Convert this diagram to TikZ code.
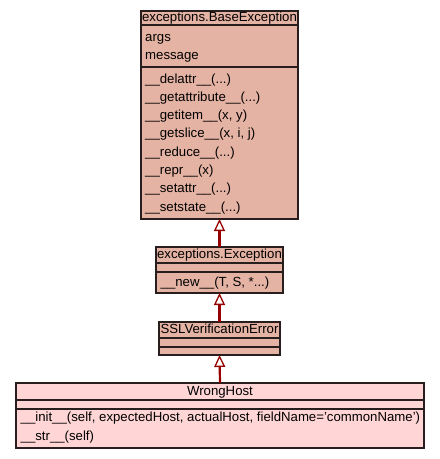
\documentclass[tikz,border=0pt]{standalone}
\usepackage{fontspec}
\setmainfont{Liberation Sans}
\usetikzlibrary{arrows.meta}
\definecolor{basefill}{RGB}{229,179,163}
\definecolor{leaffill}{RGB}{255,213,213}
\definecolor{arrowred}{RGB}{150,0,0}
\definecolor{edge}{RGB}{40,30,30}
\tikzset{
  comp/.style={draw=edge, line width=1.2pt, inner sep=0pt, outer sep=0pt, anchor=north west},
  lbl/.style={font=\fontsize{13.2}{15}\selectfont, inner sep=0pt, anchor=base west},
  ttl/.style={font=\fontsize{13.2}{15}\selectfont, inner sep=0pt, anchor=base},
  inherit/.style={draw=arrowred, line width=2.2pt,
    -{Triangle[open, length=12pt, width=11pt, line width=1.3pt, fill=white]}}
}
\begin{document}
\begin{tikzpicture}[x=1pt, y=1pt]
\useasboundingbox (0,0) rectangle (440,-459);
% BaseException
\node[comp, fill=basefill, minimum width=157pt, minimum height=14pt] (bt) at (141,-11) {};
\node[comp, fill=basefill, minimum width=157pt, minimum height=42pt] (ba) at (141,-25) {};
\node[comp, fill=basefill, minimum width=157pt, minimum height=152pt] (bm) at (141,-67) {};
\node[ttl] (btx) at (219.5,-21.7) {exceptions.BaseException};
\node[lbl] (b1) at (145,-41) {args};
\node[lbl] (b2) at (145,-59) {message};
\node[lbl] (m1) at (145,-83) {\_\_delattr\_\_(...)};
\node[lbl] (m2) at (145,-101.3) {\_\_getattribute\_\_(...)};
\node[lbl] (m3) at (145,-119.6) {\_\_getitem\_\_(x, y)};
\node[lbl] (m4) at (145,-137.9) {\_\_getslice\_\_(x, i, j)};
\node[lbl] (m5) at (145,-156.2) {\_\_reduce\_\_(...)};
\node[lbl] (m6) at (145,-174.5) {\_\_repr\_\_(x)};
\node[lbl] (m7) at (145,-192.8) {\_\_setattr\_\_(...)};
\node[lbl] (m8) at (145,-211.1) {\_\_setstate\_\_(...)};
% Exception
\node[comp, fill=basefill, minimum width=127pt, minimum height=16pt] (et) at (156,-247) {};
\node[comp, fill=basefill, minimum width=127pt, minimum height=9pt] (ea) at (156,-263) {};
\node[comp, fill=basefill, minimum width=127pt, minimum height=21pt] (em) at (156,-272) {};
\node[ttl] (etx) at (219.5,-258.3) {exceptions.Exception};
\node[lbl] (e1) at (160.5,-286.7) {\_\_new\_\_(T, S, *...)};
% SSLVerificationError
\node[comp, fill=basefill, minimum width=121pt, minimum height=16pt] (st) at (159,-322) {};
\node[comp, fill=basefill, minimum width=121pt, minimum height=9pt] (sa) at (159,-338) {};
\node[comp, fill=basefill, minimum width=121pt, minimum height=8pt] (sm) at (159,-347) {};
\node[ttl] (stx) at (219.5,-333.3) {SSLVerificationError};
% WrongHost
\node[comp, fill=leaffill, minimum width=408pt, minimum height=17pt] (wt) at (16,-383) {};
\node[comp, fill=leaffill, minimum width=408pt, minimum height=9pt] (wa) at (16,-400) {};
\node[comp, fill=leaffill, minimum width=408pt, minimum height=39pt] (wm) at (16,-409) {};
\node[ttl] (wtx) at (220,-395) {WrongHost};
\node[lbl] (w1) at (20.5,-421.7) {\_\_init\_\_(self, expectedHost, actualHost, fieldName='commonName')};
\node[lbl] (w2) at (20.5,-440.7) {\_\_str\_\_(self)};
% inheritance
\draw[inherit] (et.north) -- (bm.south);
\draw[inherit] (st.north) -- (em.south);
\draw[inherit] (wt.north) -- (sm.south);
\end{tikzpicture}
\end{document}
